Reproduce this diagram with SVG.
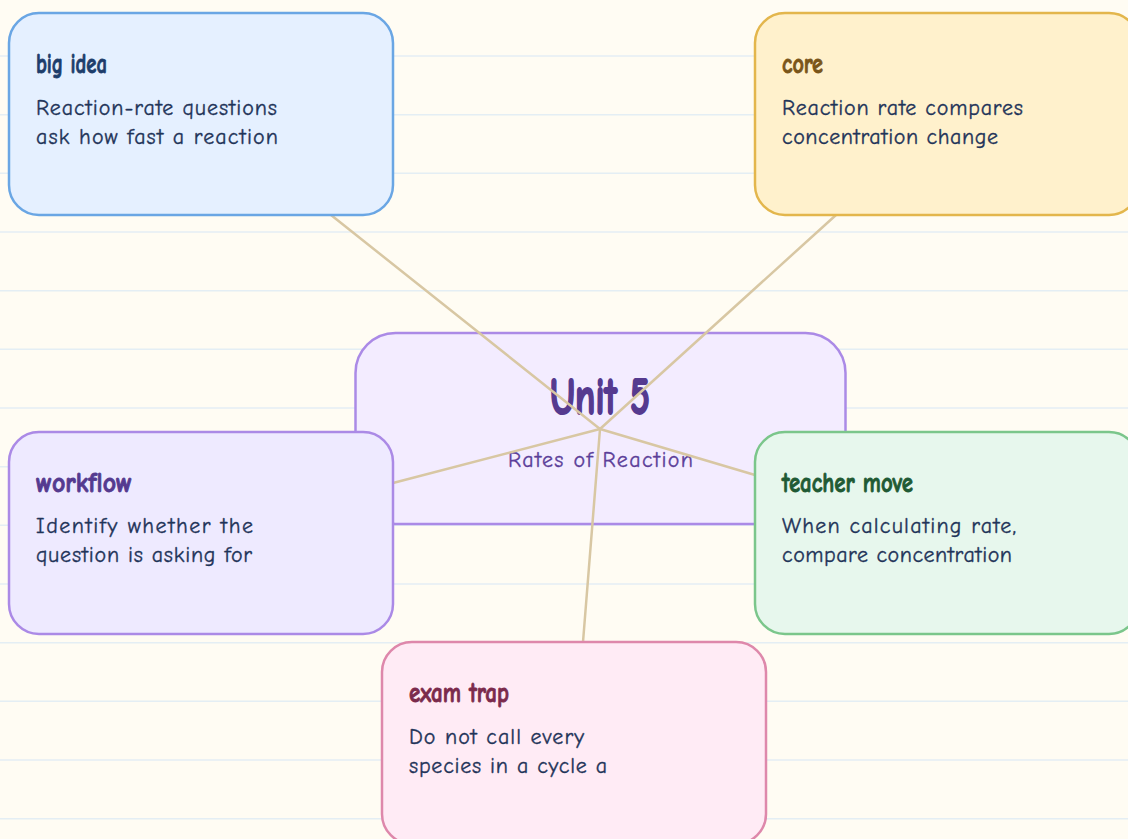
<svg xmlns="http://www.w3.org/2000/svg" width="1128" height="839" viewBox="0 0 1128 839">
  <style>
    .bg { fill: #fffcf3; }
    .rule { stroke: #e4eef4; stroke-width: 1.5; }
    .node { stroke-width: 2.5; }
    .title { font-family: "Comic Neue", "Liberation Sans Narrow", "Liberation Sans", sans-serif; font-weight: bold; font-size: 29px; stroke-width: 0.9; }
    .body { font-family: "Comic Neue", "Noto Sans", "DejaVu Sans", sans-serif; font-size: 22px; fill: #1f3459; stroke: #1f3459; stroke-width: 0.35; }
    .edge { stroke: #d8c7a3; stroke-width: 2.5; fill: none; stroke-linecap: round; }
  </style>
  <rect class="bg" x="0" y="0" width="1128" height="839"/>
  <g id="rules">
    <line class="rule" x1="0" y1="56" x2="1128" y2="56"/>
    <line class="rule" x1="0" y1="114.7" x2="1128" y2="114.7"/>
    <line class="rule" x1="0" y1="173.3" x2="1128" y2="173.3"/>
    <line class="rule" x1="0" y1="232" x2="1128" y2="232"/>
    <line class="rule" x1="0" y1="290.7" x2="1128" y2="290.7"/>
    <line class="rule" x1="0" y1="349.3" x2="1128" y2="349.3"/>
    <line class="rule" x1="0" y1="408" x2="1128" y2="408"/>
    <line class="rule" x1="0" y1="466.7" x2="1128" y2="466.7"/>
    <line class="rule" x1="0" y1="525.3" x2="1128" y2="525.3"/>
    <line class="rule" x1="0" y1="584" x2="1128" y2="584"/>
    <line class="rule" x1="0" y1="642.7" x2="1128" y2="642.7"/>
    <line class="rule" x1="0" y1="701.3" x2="1128" y2="701.3"/>
    <line class="rule" x1="0" y1="760" x2="1128" y2="760"/>
    <line class="rule" x1="0" y1="818.7" x2="1128" y2="818.7"/>
  </g>
  <g id="center">
    <rect class="node" x="355.5" y="333" width="490" height="191" rx="40" fill="#f3ecff" stroke="#ab8ae6"/>
    <text x="550" y="414" textLength="100" lengthAdjust="spacingAndGlyphs" font-family="Comic Neue, Liberation Sans, sans-serif" font-weight="bold" font-size="52" fill="#553a8f" stroke="#553a8f" stroke-width="2">Unit 5</text>
    <text x="508" y="467" textLength="185" lengthAdjust="spacing" font-family="Comic Neue, Noto Sans, DejaVu Sans, sans-serif" font-size="22" fill="#5b3e99" stroke="#5b3e99" stroke-width="0.35">Rates of Reaction</text>
  </g>
  <g id="connectors">
    <line class="edge" x1="600" y1="429" x2="331" y2="215"/>
    <line class="edge" x1="600" y1="429" x2="836" y2="215"/>
    <line class="edge" x1="600" y1="429" x2="393" y2="483"/>
    <line class="edge" x1="600" y1="429" x2="755" y2="475"/>
    <line class="edge" x1="600" y1="429" x2="583" y2="642"/>
  </g>
  <g id="big-idea">
    <rect class="node" x="9" y="13" width="384" height="202" rx="30" fill="#e5f0ff" stroke="#6aa6e4"/>
    <text class="title" x="36" y="73" textLength="71" lengthAdjust="spacingAndGlyphs" fill="#1d3d6b" stroke="#1d3d6b">big idea</text>
    <text class="body" x="36" y="115" textLength="241" lengthAdjust="spacing">Reaction-rate questions</text>
    <text class="body" x="36" y="144" textLength="242" lengthAdjust="spacing">ask how fast a reaction</text>
  </g>
  <g id="core">
    <rect class="node" x="755" y="13" width="384" height="202" rx="30" fill="#fff1cc" stroke="#e3b64c"/>
    <text class="title" x="782" y="73" textLength="41" lengthAdjust="spacingAndGlyphs" fill="#7a5518" stroke="#7a5518">core</text>
    <text class="body" x="782" y="115" textLength="241" lengthAdjust="spacing">Reaction rate compares</text>
    <text class="body" x="782" y="144" textLength="216" lengthAdjust="spacing">concentration change</text>
  </g>
  <g id="workflow">
    <rect class="node" x="9" y="432" width="384" height="202" rx="30" fill="#eeeaff" stroke="#ab8ae6"/>
    <text class="title" x="36" y="492" textLength="96" lengthAdjust="spacingAndGlyphs" fill="#553a8f" stroke="#553a8f">workflow</text>
    <text class="body" x="36" y="533" textLength="217" lengthAdjust="spacing">Identify whether the</text>
    <text class="body" x="36" y="562" textLength="216" lengthAdjust="spacing">question is asking for</text>
  </g>
  <g id="teacher-move">
    <rect class="node" x="755" y="432" width="384" height="202" rx="30" fill="#e7f7ed" stroke="#7bc68b"/>
    <text class="title" x="782" y="492" textLength="131" lengthAdjust="spacingAndGlyphs" fill="#1f5a34" stroke="#1f5a34">teacher move</text>
    <text class="body" x="782" y="533" textLength="234" lengthAdjust="spacing">When calculating rate,</text>
    <text class="body" x="782" y="562" textLength="230" lengthAdjust="spacing">compare concentration</text>
  </g>
  <g id="exam-trap">
    <rect class="node" x="382" y="642" width="384" height="202" rx="30" fill="#ffebf5" stroke="#de88ab"/>
    <text class="title" x="409" y="702" textLength="100" lengthAdjust="spacingAndGlyphs" fill="#7b2a4c" stroke="#7b2a4c">exam trap</text>
    <text class="body" x="409" y="744" textLength="175" lengthAdjust="spacing">Do not call every</text>
    <text class="body" x="409" y="773" textLength="198" lengthAdjust="spacing">species in a cycle a</text>
  </g>
</svg>
